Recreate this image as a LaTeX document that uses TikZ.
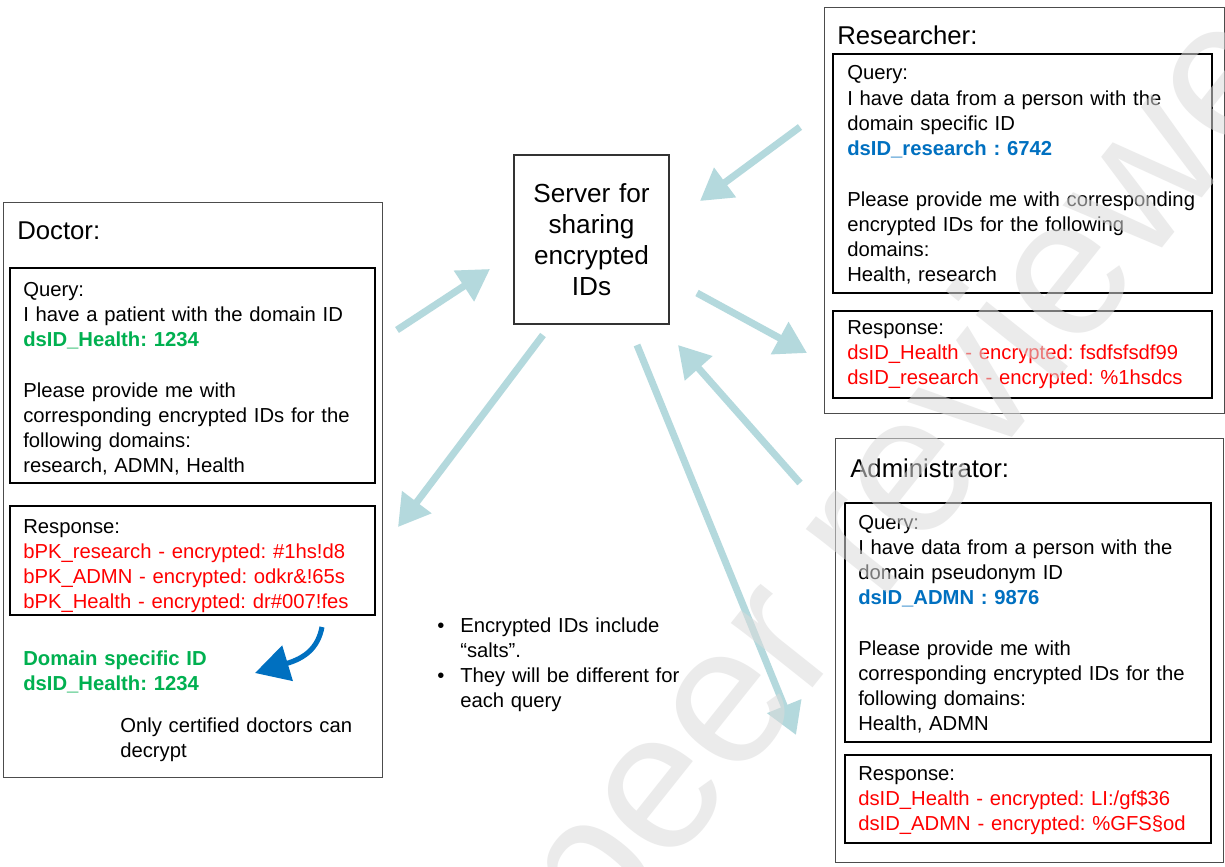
\documentclass[tikz,border=0pt]{standalone}
\usepackage{fontspec}
\setmainfont{Liberation Sans}
\usetikzlibrary{arrows.meta,fit}
\definecolor{teal1}{RGB}{180,217,221}
\definecolor{pgreen}{RGB}{0,176,80}
\definecolor{pblue}{RGB}{0,112,192}
\definecolor{pred}{RGB}{255,0,0}
\frenchspacing
\begin{document}
\frenchspacing
\begin{tikzpicture}[x=0.025cm,y=-0.025cm,
  outerbox/.style={draw=black!70,line width=0.7pt,inner sep=0pt},
  innerbox/.style={draw=black,line width=2pt,inner sep=0pt},
  serverbox/.style={draw=black!80,line width=0.8pt,inner sep=0pt},
  body/.style={anchor=base west,inner sep=0pt,text width=10cm,align=left,font=\fontsize{14.4pt}{17.93pt}\selectfont},
  titletext/.style={anchor=base west,inner sep=0pt,font=\fontsize{18.3pt}{22pt}\selectfont},
  flow/.style={draw=teal1,line width=5pt,-{Triangle[length=0.78cm,width=0.88cm]}},
  bullet/.style={anchor=base west,inner sep=0pt,font=\fontsize{14.4pt}{17.93pt}\selectfont},
]
\fill[white] (0,0) rectangle (1225,867);
\useasboundingbox (0,0) rectangle (1225,867);

% ---------- Doctor ----------
\node[outerbox,fit={(3,202)(382,777)}] (doctor) {};
\node[titletext] (doctortitle) at (17,239) {Doctor:};
\node[innerbox,fit={(10,268)(375,483)}] (dquerybox) {};
\node[body] (dquery) at (23,296.5) {Query:\\
I have a patient with the domain ID\\
\textcolor{pgreen}{\textbf{dsID\_Health: 1234}}\\[17.93pt]
Please provide me with\\
corresponding encrypted IDs for the\\
following domains:\\
research, ADMN, Health};
\node[innerbox,fit={(10,506)(375,615)}] (dresponsebox) {};
\node[body] (dresponse) at (23,533) {Response:\\
\textcolor{pred}{bPK\_research - encrypted: \#1hs!d8}\\
\textcolor{pred}{bPK\_ADMN - encrypted: odkr\&!65s}\\
\textcolor{pred}{bPK\_Health - encrypted: dr\#007!fes}};
\node[body,text=pgreen,font=\fontsize{14.4pt}{17.93pt}\selectfont\bfseries] (domainid) at (23,665) {Domain specific ID\\dsID\_Health: 1234};
\node[body] (onlycert) at (120,732) {Only certified doctors can\\decrypt};
\coordinate (cs) at (322,627);
\coordinate (ce) at (255,673);
\draw[pblue,line width=3.6pt,-{Triangle[length=0.85cm,width=0.9cm]}] (cs) .. controls (318,648) and (305,658) .. (ce);

% ---------- Server ----------
\node[serverbox,fit={(514,155)(669,324)}] (server) {};
\node[anchor=base,inner sep=0pt,text width=4cm,align=center,font=\fontsize{18.6pt}{22pt}\selectfont] (servertext) at (591.5,202.7) {Server for\\sharing\\encrypted\\IDs};

% ---------- Bullets ----------
\node[bullet] (b1) at (437,632) {•};
\node[body] (b1text) at (460,632) {Encrypted IDs include\\“salts”.};
\node[bullet] (b2) at (437,682) {•};
\node[body] (b2text) at (460,682) {They will be different for\\each query};

% ---------- Researcher ----------
\node[outerbox,fit={(824,7)(1224,413)}] (researcher) {};
\node[titletext] (researchertitle) at (837,45) {Researcher:};
\node[innerbox,fit={(833,54)(1212,293)}] (rquerybox) {};
\node[body] (rquery) at (847,80) {Query:\\
I have data from a person with the\\
domain specific ID\\
\textcolor{pblue}{\textbf{dsID\_research : 6742}}\\[17.93pt]
Please provide me with corresponding\\
encrypted IDs for the following\\
domains:\\
Health, research};
\node[innerbox,fit={(833,311)(1212,398)}] (rresponsebox) {};
\node[body] (rresponse) at (847,334) {Response:\\
\textcolor{pred}{dsID\_Health - encrypted: fsdfsfsdf99}\\
\textcolor{pred}{dsID\_research - encrypted: \%1hsdcs}};

% ---------- Administrator ----------
\node[outerbox,fit={(835,438)(1223,862)}] (admin) {};
\node[titletext] (admintitle) at (850,477) {Administrator:};
\node[innerbox,fit={(845,503)(1211,742)}] (aquerybox) {};
\node[body] (aquery) at (858,529) {Query:\\
I have data from a person with the\\
domain pseudonym ID\\
\textcolor{pblue}{\textbf{dsID\_ADMN : 9876}}\\[17.93pt]
Please provide me with\\
corresponding encrypted IDs for the\\
following domains:\\
Health, ADMN};
\node[innerbox,fit={(845,755)(1211,843)}] (aresponsebox) {};
\node[body] (aresponse) at (858,780) {Response:\\
\textcolor{pred}{dsID\_Health - encrypted: LI:/gf\$36}\\
\textcolor{pred}{dsID\_ADMN - encrypted: \%GFS§od}};

% ---------- Flow arrows ----------
\coordinate (a1s) at (397,330); \coordinate (a1e) at (490,269);
\coordinate (a2s) at (543,335); \coordinate (a2e) at (398,527);
\coordinate (a3s) at (800,127); \coordinate (a3e) at (700,201);
\coordinate (a4s) at (697,293); \coordinate (a4e) at (807,353);
\coordinate (a5s) at (800,483); \coordinate (a5e) at (678,345);
\coordinate (a6s) at (637,345); \coordinate (a6e) at (796,735);
\draw[flow] (a1s) -- (a1e);
\draw[flow] (a2s) -- (a2e);
\draw[flow] (a3s) -- (a3e);
\draw[flow] (a4s) -- (a4e);
\draw[flow] (a5s) -- (a5e);
\draw[flow] (a6s) -- (a6e);

% ---------- Watermark ----------
\begin{scope}
\clip (0,0) rectangle (1225,867);
\node[rotate=51.5,anchor=base west,inner sep=0pt,text=black!14,opacity=0.55,font=\fontsize{140pt}{140pt}\selectfont] (wm) at (600,956) {peer reviewed};
\end{scope}
\end{tikzpicture}
\end{document}
